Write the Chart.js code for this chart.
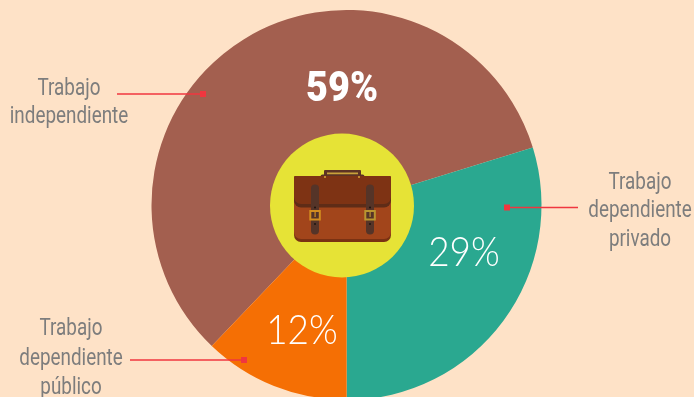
<!DOCTYPE html>
<html lang="es">
<head>
<meta charset="utf-8">
<style>html,body{margin:0;padding:0;background:#fee2c7;overflow:hidden;height:397px}canvas{display:block}</style>
<script src="https://cdn.jsdelivr.net/npm/chart.js@4"></script>
</head>
<body>
<canvas id="c" width="694" height="410"></canvas>
<script>
const categories = ["Trabajo independiente", "Trabajo dependiente privado", "Trabajo dependiente público"];
// Wedge shares as drawn in the picture (printed labels are rounded separately).
const wedgeShares = [58.1, 29.75, 12.15];
const printedLabels = ["59%", "29%", "12%"];
const sliceColors = ["#a35f4f", "#2aa890", "#f56f04"];

const labelBlocks = [
  {lines:["Trabajo","independiente"], cx:69, ys:[89,117]},
  {lines:["Trabajo","dependiente","privado"], cx:640, ys:[183,211,240]},
  {lines:["Trabajo","dependiente","público"], cx:71, ys:[329,359,388]}
];
const leaders = [[117,203,94],[507,578,207.5],[130,244,360]];
const pct = [
  {cx:342, y:90, font:"900 43px Roboto", sx:0.88},
  {cx:464, y:253, font:"300 41px Lato", sx:0.9},
  {cx:302, y:331, font:"300 41px Lato", sx:0.9}
];

function rr(ctx,x,y,w,h,r,col){ctx.fillStyle=col;ctx.beginPath();ctx.roundRect(x,y,w,h,r);ctx.fill();}

function drawBriefcase(ctx){
  // handle
  rr(ctx,324,170,37,7,1,"#5d3324");
  ctx.fillStyle="#c9a23a";ctx.fillRect(327,172.5,31,2);
  rr(ctx,320.5,174.5,44,5,2,"#5d3324");
  // body
  rr(ctx,294,176,97,66,[2,2,7,7],"#7a3213");
  rr(ctx,294,176,97,63,[2,2,7,7],"#a2451b");
  // flap
  rr(ctx,294,176,97,31.5,[2,2,7,7],"#5f2c17");
  rr(ctx,294,176,97,28,[2,2,7,7],"#7e3314");
  // straps
  rr(ctx,311,184.5,8,50,4,"#553428");
  rr(ctx,366,184.5,8,50,4,"#553428");
  // buckles
  ctx.lineWidth=2;
  ctx.strokeStyle="#d28d1f";ctx.strokeRect(310.3,211,9.5,8.5);
  ctx.strokeStyle="#b99530";ctx.strokeRect(365.3,211,9.5,8.5);
  ctx.fillStyle="#d28d1f";ctx.fillRect(314.5,212,1.2,5);
  ctx.fillStyle="#b99530";ctx.fillRect(369.5,212,1.2,5);
  // dots
  ctx.fillStyle="#1d1410";
  [[315,207.5],[315,224],[370,207.5],[370,224]].forEach(p=>{ctx.beginPath();ctx.arc(p[0],p[1],1,0,7);ctx.fill();});
  ctx.fillStyle="#d9a63a";
  [[325,177],[359,177]].forEach(p=>{ctx.beginPath();ctx.arc(p[0],p[1],1,0,7);ctx.fill();});
}

const overlay = {
  id:"overlay",
  afterDraw(chart){
    const ctx = chart.ctx;
    ctx.save();
    // central disc
    ctx.fillStyle="#e6e336";
    ctx.beginPath();ctx.arc(342,205.5,72,0,Math.PI*2);ctx.fill();
    drawBriefcase(ctx);
    // leader lines
    ctx.strokeStyle="#f0363f";ctx.fillStyle="#f0363f";ctx.lineWidth=1.5;
    leaders.forEach((l,i)=>{
      ctx.beginPath();ctx.moveTo(l[0],l[2]);ctx.lineTo(l[1],l[2]);ctx.stroke();
      const sqx = i===1 ? l[0] : l[1];
      ctx.fillRect(sqx-3,l[2]-3,6,6);
    });
    // outer labels
    ctx.textAlign="center";ctx.textBaseline="middle";
    ctx.fillStyle="#7d7d7d";
    ctx.font="23px Roboto";
    labelBlocks.forEach(b=>b.lines.forEach((t,i)=>{
      ctx.save();ctx.translate(b.cx,b.ys[i]);ctx.scale(0.82,1);ctx.fillText(t,0,0);ctx.restore();
    }));
    // percent labels
    ctx.fillStyle="#ffffff";
    pct.forEach((p,i)=>{
      ctx.save();ctx.font=p.font;ctx.translate(p.cx,p.y);ctx.scale(p.sx,1);ctx.fillText(printedLabels[i],0,0);ctx.restore();
    });
    ctx.restore();
  }
};

new Chart(document.getElementById("c"),{
  type:"pie",
  data:{labels:categories,datasets:[{data:wedgeShares,backgroundColor:sliceColors,borderWidth:0}]},
  options:{
    responsive:false,animation:false,
    rotation:223.7,
    layout:{padding:{left:151,right:152,top:10,bottom:10}},
    plugins:{legend:{display:false},tooltip:{enabled:false}}
  },
  plugins:[overlay]
});
</script>
</body>
</html>
